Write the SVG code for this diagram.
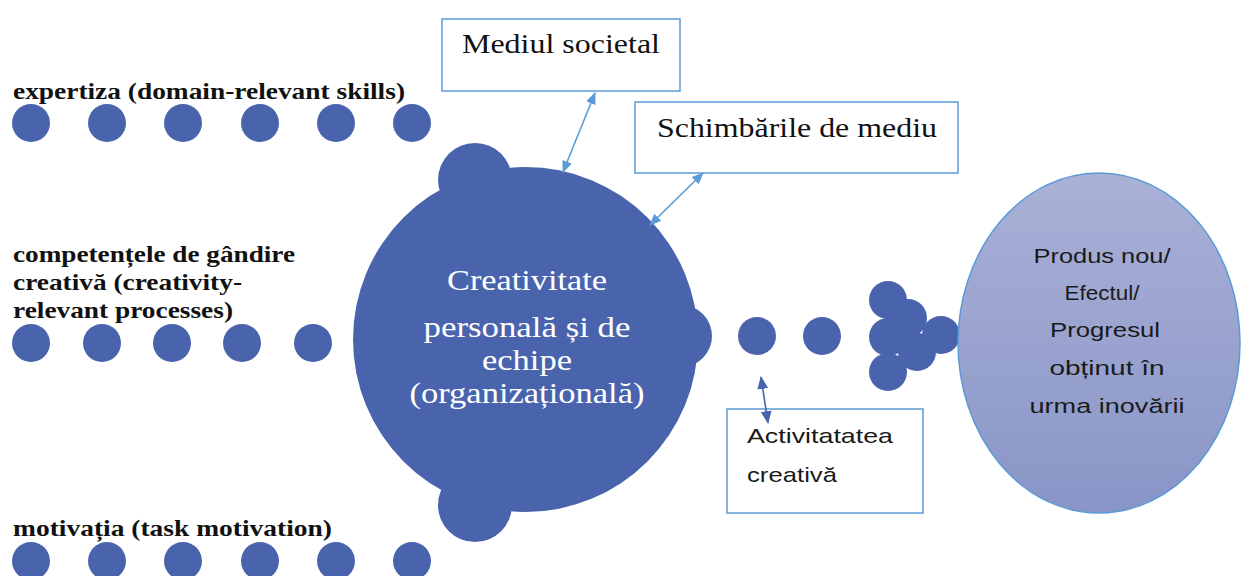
<svg xmlns="http://www.w3.org/2000/svg" width="1246" height="576" viewBox="0 0 1246 576">
  <style>
    .dot { fill: #4964ad; }
    .lbl { font-family: "Liberation Serif", "Times New Roman", serif; font-weight: bold; font-size: 24px; fill: #111; }
    .box { fill: #ffffff; stroke: #5b9bd5; stroke-width: 1.5; }
    .boxtxt { font-family: "Liberation Serif", "Times New Roman", serif; font-size: 27px; fill: #111; }
    .core { fill: #4964ad; }
    .coretxt { font-family: "Liberation Serif", "Times New Roman", serif; font-size: 30px; fill: #ffffff; text-anchor: middle; }
    .sans { font-family: "Liberation Sans", Arial, sans-serif; font-size: 21px; fill: #1a1a1a; }
    .link { stroke: #5b9bd5; stroke-width: 1.6; fill: none; marker-start: url(#headL); marker-end: url(#headL); }
    .link-dark { stroke: #4964ad; stroke-width: 1.6; fill: none; marker-start: url(#headD); marker-end: url(#headD); }
  </style>
  <defs>
    <marker id="headL" viewBox="0 0 12 10" refX="11" refY="5" markerWidth="12" markerHeight="10" markerUnits="userSpaceOnUse" orient="auto-start-reverse">
      <path d="M0,0 L12,5 L0,10 Z" fill="#5b9bd5"/>
    </marker>
    <marker id="headD" viewBox="0 0 12 10" refX="11" refY="5" markerWidth="13" markerHeight="11" markerUnits="userSpaceOnUse" orient="auto-start-reverse">
      <path d="M0,0 L12,5 L0,10 Z" fill="#4964ad"/>
    </marker>
    <linearGradient id="outGrad" x1="0" y1="0" x2="0" y2="1">
      <stop offset="0" stop-color="#aab1d7"/>
      <stop offset="1" stop-color="#8995c7"/>
    </linearGradient>
  </defs>

  <rect width="1246" height="576" fill="#ffffff"/>

  <!-- Component 1: expertise -->
  <g id="expertiza">
    <text class="lbl" x="13" y="99" textLength="392" lengthAdjust="spacingAndGlyphs">expertiza (domain-relevant skills)</text>
    <circle class="dot" cx="31" cy="123" r="19"/>
    <circle class="dot" cx="107" cy="123" r="19"/>
    <circle class="dot" cx="183" cy="123" r="19"/>
    <circle class="dot" cx="260" cy="123" r="19"/>
    <circle class="dot" cx="336" cy="123" r="19"/>
    <circle class="dot" cx="412" cy="123" r="19"/>
  </g>

  <!-- Component 2: creative thinking skills -->
  <g id="competente">
    <text class="lbl" x="13" y="262" textLength="282" lengthAdjust="spacingAndGlyphs">competențele de gândire</text>
    <text class="lbl" x="13" y="290" textLength="229" lengthAdjust="spacingAndGlyphs">creativă (creativity-</text>
    <text class="lbl" x="13" y="318" textLength="220" lengthAdjust="spacingAndGlyphs">relevant processes)</text>
    <circle class="dot" cx="31" cy="343" r="19"/>
    <circle class="dot" cx="102" cy="343" r="19"/>
    <circle class="dot" cx="172" cy="343" r="19"/>
    <circle class="dot" cx="242" cy="343" r="19"/>
    <circle class="dot" cx="313" cy="343" r="19"/>
  </g>

  <!-- Component 3: motivation -->
  <g id="motivatia">
    <text class="lbl" x="13" y="536" textLength="319" lengthAdjust="spacingAndGlyphs">motivația (task motivation)</text>
    <circle class="dot" cx="31" cy="561" r="19"/>
    <circle class="dot" cx="107" cy="561" r="19"/>
    <circle class="dot" cx="183" cy="561" r="19"/>
    <circle class="dot" cx="260" cy="561" r="19"/>
    <circle class="dot" cx="336" cy="561" r="19"/>
    <circle class="dot" cx="412" cy="561" r="19"/>
  </g>

  <!-- Central creativity node -->
  <g id="creativitate">
    <circle class="core" cx="475" cy="180" r="37"/>
    <circle class="core" cx="475" cy="505" r="37"/>
    <circle class="core" cx="681" cy="336" r="31"/>
    <circle class="core" cx="525.5" cy="339.5" r="172.5"/>
    <text class="coretxt" x="527" y="290" textLength="160" lengthAdjust="spacingAndGlyphs">Creativitate</text>
    <text class="coretxt" x="527" y="337" textLength="207" lengthAdjust="spacingAndGlyphs">personală și de</text>
    <text class="coretxt" x="527" y="370" textLength="90" lengthAdjust="spacingAndGlyphs">echipe</text>
    <text class="coretxt" x="527" y="403" textLength="235" lengthAdjust="spacingAndGlyphs">(organizațională)</text>
  </g>

  <!-- Environment boxes -->
  <g id="mediul-societal">
    <rect class="box" x="442" y="19" width="238" height="72"/>
    <text class="boxtxt" x="462" y="53" textLength="198" lengthAdjust="spacingAndGlyphs">Mediul societal</text>
  </g>
  <g id="schimbarile">
    <rect class="box" x="635" y="102" width="323" height="71"/>
    <text class="boxtxt" x="657" y="137" textLength="280" lengthAdjust="spacingAndGlyphs">Schimbările de mediu</text>
  </g>

  <!-- Flow of dots toward the outcome -->
  <g id="flux">
    <circle class="dot" cx="757" cy="336" r="19"/>
    <circle class="dot" cx="822" cy="336" r="19"/>
    <circle class="dot" cx="888" cy="300" r="19"/>
    <circle class="dot" cx="908" cy="318" r="19"/>
    <circle class="dot" cx="888" cy="337" r="19"/>
    <circle class="dot" cx="941" cy="335" r="19"/>
    <circle class="dot" cx="917" cy="352" r="19"/>
    <circle class="dot" cx="888" cy="372" r="19"/>
  </g>

  <!-- Outcome node -->
  <g id="produs">
    <ellipse cx="1099" cy="343" rx="141" ry="170" fill="url(#outGrad)" stroke="#5b9bd5" stroke-width="1.5"/>
    <text class="sans" x="1102" y="263" text-anchor="middle" textLength="137" lengthAdjust="spacingAndGlyphs">Produs nou/</text>
    <text class="sans" x="1102" y="300" text-anchor="middle" textLength="75" lengthAdjust="spacingAndGlyphs">Efectul/</text>
    <text class="sans" x="1105" y="337" text-anchor="middle" textLength="110" lengthAdjust="spacingAndGlyphs">Progresul</text>
    <text class="sans" x="1107" y="375" text-anchor="middle" textLength="115" lengthAdjust="spacingAndGlyphs">obținut în</text>
    <text class="sans" x="1107" y="413" text-anchor="middle" textLength="155" lengthAdjust="spacingAndGlyphs">urma inovării</text>
  </g>

  <!-- Creative activity box -->
  <g id="activitatea">
    <rect class="box" x="727" y="409" width="196" height="104"/>
    <text class="sans" x="747" y="443" textLength="146" lengthAdjust="spacingAndGlyphs">Activitatatea</text>
    <text class="sans" x="747" y="482" textLength="90" lengthAdjust="spacingAndGlyphs">creativă</text>
  </g>

  <!-- Two-way connectors -->
  <g id="conectori">
    <line class="link" x1="595" y1="93" x2="563" y2="172"/>
    <line class="link" x1="703" y1="173" x2="650" y2="225"/>
    <line class="link-dark" x1="761" y1="377" x2="768" y2="423"/>
  </g>
</svg>
